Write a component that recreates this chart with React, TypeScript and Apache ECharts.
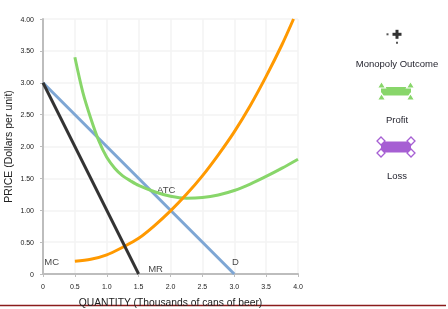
import React, { useEffect, useRef } from "react";
import * as echarts from "echarts";

const demand: number[][] = [[0, 3], [3, 0]];
const marginalRevenue: number[][] = [[0, 3], [1.5, 0]];
const marginalCost: number[][] = [
  [0.5, 0.2], [0.75, 0.23], [1.0, 0.3], [1.25, 0.42], [1.5, 0.56], [1.75, 0.76],
  [2.0, 0.99], [2.25, 1.25], [2.5, 1.54], [2.75, 1.87], [3.0, 2.23], [3.25, 2.64],
  [3.5, 3.1], [3.75, 3.6], [3.93, 4.0],
];
const averageTotalCost: number[][] = [
  [0.5, 3.4], [0.625, 2.85], [0.75, 2.44], [0.875, 2.09], [1.0, 1.83], [1.125, 1.66],
  [1.25, 1.54], [1.375, 1.46], [1.5, 1.39], [1.75, 1.29], [2.0, 1.22], [2.25, 1.19],
  [2.5, 1.2], [2.75, 1.24], [3.0, 1.31], [3.25, 1.41], [3.5, 1.53], [3.75, 1.66], [4.0, 1.8],
];
const curveLabels: { name: string; q: number; p: number; align: string }[] = [
  { name: "MC", q: 0.02, p: 0.19, align: "left" },
  { name: "MR", q: 1.65, p: 0.09, align: "left" },
  { name: "ATC", q: 1.79, p: 1.32, align: "left" },
  { name: "D", q: 3.02, p: 0.19, align: "center" },
];
const legendLabels = ["Monopoly Outcome", "Profit", "Loss"];

const FONT = "'Liberation Sans', Arial, sans-serif";

export default function App() {
  const ref = useRef<HTMLDivElement>(null);
  useEffect(() => {
    if (!ref.current) return;
    const chart = echarts.init(ref.current, undefined, { renderer: "svg" });
    const green = "#88d66a";
    const purple = "#a65fd3";
    const tri = (cx: number, cy: number) => ({
      type: "polygon",
      shape: { points: [[cx, cy - 3.5], [cx + 4, cy + 3], [cx - 4, cy + 3]] },
      style: { fill: green, stroke: "#ffffff", lineWidth: 1.2 },
    });
    const dia = (cx: number, cy: number) => ({
      type: "polygon",
      shape: { points: [[cx, cy - 4], [cx + 4, cy], [cx, cy + 4], [cx - 4, cy]] },
      style: { fill: "#ffffff", stroke: purple, lineWidth: 1.3 },
    });
    const legendText = (t: string, y: number) => ({
      type: "text",
      x: 397,
      y,
      style: { text: t, fill: "#1f1f2a", font: `9.5px ${FONT}`, align: "center", verticalAlign: "middle" },
    });
    chart.setOption({
      animation: false,
      grid: { left: 43, right: 150, top: 19, bottom: 35, containLabel: false, outerBoundsMode: "none" },
      xAxis: {
        type: "value",
        min: 0,
        max: 4,
        interval: 0.5,
        name: "QUANTITY (Thousands of cans of beer)",
        nameLocation: "middle",
        nameGap: 23,
        nameTextStyle: { fontSize: 10.3, color: "#222", fontFamily: FONT },
        axisLine: { show: true, onZero: false, lineStyle: { color: "#bdbdbd", width: 2 } },
        axisTick: { show: true, length: 3, lineStyle: { color: "#bdbdbd" } },
        axisLabel: {
          fontSize: 7,
          color: "#222",
          fontFamily: FONT,
          margin: 9,
          formatter: (v: number) => (v === 0 ? "0" : v.toFixed(1)),
        },
        splitLine: { show: true, lineStyle: { color: "#f3f3f3", width: 1.5 } },
      },
      yAxis: {
        type: "value",
        min: 0,
        max: 4,
        interval: 0.5,
        name: "PRICE (Dollars per unit)",
        nameLocation: "middle",
        nameGap: 30,
        nameMoveOverlap: false,
        nameTextStyle: { fontSize: 10.5, color: "#222", fontFamily: FONT },
        axisLine: { show: true, onZero: false, lineStyle: { color: "#bdbdbd", width: 2 } },
        axisTick: { show: true, length: 3, lineStyle: { color: "#bdbdbd" } },
        axisLabel: {
          fontSize: 7,
          color: "#222",
          fontFamily: FONT,
          margin: 9,
          formatter: (v: number) => (v === 0 ? "0" : v.toFixed(2)),
        },
        splitLine: { show: true, lineStyle: { color: "#f3f3f3", width: 1.5 } },
      },
      series: [
        {
          name: "D", type: "line", data: demand, showSymbol: false,
          lineStyle: { color: "#7ea6d4", width: 3 },
        },
        {
          name: "ATC", type: "line", data: averageTotalCost, showSymbol: false,
          smooth: 0.3,
          lineStyle: { color: green, width: 3 },
        },
        {
          name: "MC", type: "line", data: marginalCost, showSymbol: false,
          smooth: 0.3,
          lineStyle: { color: "#ff9900", width: 3 },
        },
        {
          name: "MR", type: "line", data: marginalRevenue, showSymbol: false,
          lineStyle: { color: "#333333", width: 3 },
        },
        {
          name: "labels", type: "scatter", symbolSize: 0, silent: true,
          data: curveLabels.map((l) => ({
            value: [l.q, l.p],
            label: {
              show: true, position: "inside", formatter: l.name, align: l.align,
              fontSize: 9.5, color: "#111", fontFamily: FONT,
            },
          })),
        },
      ],
      graphic: [
        { type: "line", shape: { x1: 0, y1: 305.5, x2: 446, y2: 305.5 }, style: { stroke: "#8b1c1c", lineWidth: 1.5 } },
        // Monopoly outcome icon
        { type: "rect", shape: { x: 392.5, y: 32.8, width: 9, height: 3 }, style: { fill: "#333" } },
        { type: "rect", shape: { x: 395.5, y: 29.8, width: 3, height: 9 }, style: { fill: "#333" } },
        { type: "rect", shape: { x: 386.5, y: 33.3, width: 2, height: 2 }, style: { fill: "#555" } },
        { type: "rect", shape: { x: 396, y: 41.8, width: 2, height: 2 }, style: { fill: "#555" } },
        legendText(legendLabels[0], 63.5),
        // Profit icon
        { type: "rect", shape: { x: 381, y: 87, width: 30, height: 8.5 }, style: { fill: green } },
        tri(381.5, 85), tri(410.5, 85), tri(381.5, 97), tri(410.5, 97),
        legendText(legendLabels[1], 119.5),
        // Loss icon
        { type: "rect", shape: { x: 381, y: 141.5, width: 30, height: 11 }, style: { fill: purple } },
        dia(381, 141), dia(411, 141), dia(381, 153), dia(411, 153),
        legendText(legendLabels[2], 175.5),
      ],
    });
    return () => chart.dispose();
  }, []);
  return <div ref={ref} style={{ position: "fixed", left: 0, top: 0, width: 448, height: 309 }} />;
}
